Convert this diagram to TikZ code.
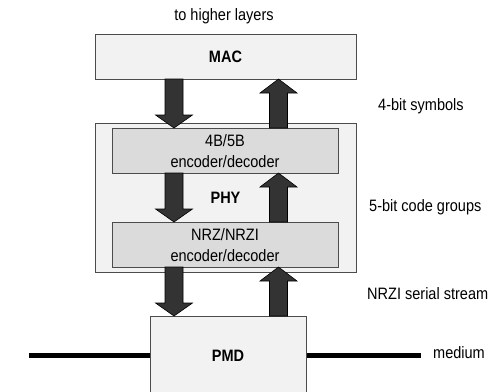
\documentclass[tikz,border=0pt]{standalone}
\usepackage{fontspec}
\setmainfont[FakeStretch=0.88]{Liberation Sans}
\begin{document}
\begin{tikzpicture}[x=1pt,y=-1pt,
  box/.style={draw=black!70,line width=0.8pt,fill=black!5},
  inbox/.style={draw=black!70,line width=0.8pt,fill=black!14},
  lbl/.style={font=\fontsize{16.5}{21}\selectfont,inner sep=0pt},
  blbl/.style={font=\fontsize{16.5}{21}\selectfont\bfseries,inner sep=0pt},
  fatarrow/.style={draw=black,line width=0.6pt,fill=black!80}]
\useasboundingbox (0,0) rectangle (503,391);
% boxes
\path[box] (95,34) rectangle (356,79);
\node[blbl] (mac) at (225.5,57) {MAC};
\path[box] (95,123) rectangle (356,272);
\node[blbl] (phy) at (225.5,198) {PHY};
\path[inbox] (112,128) rectangle (338,173);
\node[lbl,align=center] (enc) at (225,151) {4B/5B\\encoder/decoder};
\path[inbox] (112,222) rectangle (338,267);
\node[lbl,align=center] (nrz) at (225,245) {NRZ/NRZI\\encoder/decoder};
% medium
\draw[line width=5pt] (29,355) -- (421,355);
\path[box] (150,316) rectangle (306,395);
\node[blbl] (pmd) at (228,356) {PMD};
% arrows: down (x center 174), up (x center 278)
\newcommand{\downarr}[2]{%
  \path[fatarrow] (165,#1) -- (183,#1) -- (183,#2-13) -- (192.5,#2-13) -- (174,#2) -- (155.5,#2-13) -- (165,#2-13) -- cycle;}
\newcommand{\uparr}[2]{%
  \path[fatarrow] (269.5,#1) -- (287.5,#1) -- (287.5,#2+14) -- (297,#2+14) -- (278.5,#2) -- (260,#2+14) -- (269.5,#2+14) -- cycle;}
\downarr{79}{128}
\uparr{128}{79}
\downarr{173}{222}
\uparr{222}{173}
\downarr{267}{316}
\uparr{316}{267}
% labels
\node[lbl] (top) at (224,16) {to higher layers};
\node[lbl,anchor=west] (l1) at (378,106) {4-bit symbols};
\node[lbl,anchor=west] (l2) at (369,207) {5-bit code groups};
\node[lbl,anchor=west] (l3) at (367,294) {NRZI serial stream};
\node[lbl,anchor=west] (l4) at (433,353) {medium};
\end{tikzpicture}
\end{document}
